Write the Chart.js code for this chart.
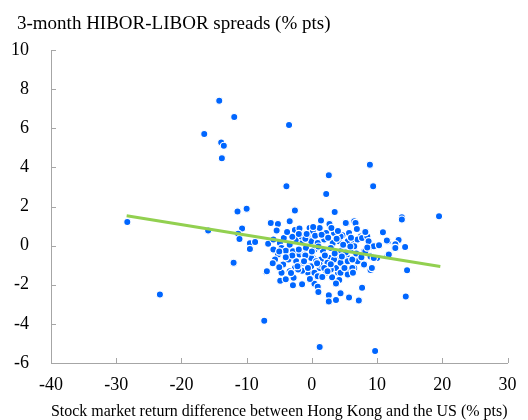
<!DOCTYPE html>
<html>
<head>
<meta charset="utf-8">
<script src="https://cdn.jsdelivr.net/npm/chart.js"></script>
<style>
  html, body { margin: 0; padding: 0; background: #fff; }
</style>
</head>
<body>
<canvas id="hibor-libor" width="528" height="420"></canvas>
<script>
// stock market return difference HK - US (% pts)
const stockDiff = [
  // outliers
  -28.3, -23.3, -14.2, -16.5, -11.9, -13.9, -13.5, -13.8, -3.5, -3.9, -11.4, -10.0, -2.6, 2.6, 2.2, 8.9, 9.4, 3.5,
  13.8, 13.8, 19.5, 14.4, 14.6, -7.3, 1.2, 9.7, -15.9, -12.0,
  // left of cluster
  -10.7, -11.3, -11.1, -9.5, -8.7, -9.5, -7.0, -4.85, -4.0, -2.8, -2.9, -1.5,
  // lower cluster
  0.4, 0.9, 1.0, 2.6, 2.6, 3.7, 4.4, 5.7, 7.2, 7.7, 3.1, 4.2, 3.7, 4.0, 5.6, 6.2, 8.0, 9.0, 9.6, 11.6, -1.5, -0.6, 2.5, 5.2,
  // right side
  10.9, 13.3, 14.3, 12.8, 11.7, 10.3, 9.4, 11.8, 12.7, 7.5, 6.8, 5.3, 1.4, 2.7, 11.5,
  // cluster, left part
  -6.3, -5.2, -3.4, -5.4, -2.6, -1.9, -0.35, -6.7, -5.9, -4.9, -4.3, -4.65, -5.2, -4.0, -3.4, -2.4, -1.4, -0.9,
  -0.6, -1.6, -2.9, -1.9, -3.6, -2.4, -4.65, -1.4, -2.6, -1.5, -0.35, -0.35, -6.9, -3.4, -4.4, -5.65, -5.9, -0.35,
  // cluster, middle
  1.4, 2.7, 5.2, 6.5, 1.2, 0.15, 2.2, 3.4, 4.7, 5.7, -0.1, 0.9, 1.9, 3.2, 4.2, 5.5, 6.5, 0.4, 1.7, 2.9, 4.4, 6.0,
  0.15, 1.4, 2.7, 3.9, 5.5, -0.1, 1.2, 2.4, 3.7, 5.0, 6.5, 0.4, 2.2, 4.4,
  // cluster, right part
  6.7, 7.0, 7.7, 8.5, 8.7, 9.5, 10.3, 12.8, 6.5, 8.0, 7.2, 9.0, 10.0, 8.0, 9.2, 6.2, 7.0, 4.4, 8.2,
  // cluster, bottom edge
  -1.1, -0.1, 0.65, 2.4, 3.4, 4.4, 5.5, 6.2, 8.2, 9.5, -2.1, -1.4, -0.6, 1.2, 1.9, 2.9, 5.0, 5.5, 6.3, 0.9, 2.4,
  // cluster, filled in
  -3.0, -2.0, -1.0, 0.5, 1.5, 2.5, 3.8, 4.8, 6.0, 6.8, 5.2, 3.5, 2.0, 1.0, 0.0, -1.0, -2.0, -3.0, -4.0, -5.0,
  -3.8, -1.2, 0.8, 2.9, 4.6, 7.6, 8.5, 0.2, -0.8, 3.0, 4.0, -2.2, 1.6, -0.3, 6.9, 5.9, -6.0, -5.0, -3.2, 8.2
];

// 3-month HIBOR-LIBOR spread (% pts)
const hiborSpread = [
  1.21, -2.5, 7.41, 5.7, 6.57, 5.27, 5.1, 4.47, 6.17, 3.03, 1.75, 1.89, 1.8, 3.6, 2.64, 4.14, 3.03, 1.72,
  1.45, 1.33, 1.5, -2.6, -1.26, -3.84, -5.18, -5.39, 0.77, -0.87,
  0.87, 0.61, 0.34, 0.12, 0.19, -0.17, -1.35, -1.8, -1.72, -1.64, -2.03, -1.98,
  -1.95, -2.1, -2.37, -2.54, -2.85, -2.78, -2.44, -2.65, -2.8, -2.15, -1.62, -1.76, -1.93, -1.38, -1.37, -1.37, -0.97, -1.25, -0.65, -0.53, -1.25, -1.37, -1.33, -0.9,
  0.68, 0.29, -0.07, 0.07, 0.22, -0.02, -0.07, -0.46, -0.12, 0.47, 1.12, 1.12, 1.31, 1.1, 0.26,
  1.16, 1.1, 1.24, 0.77, 0.8, 0.87, 0.9, 0.09, 0.31, 0.14, 0.39, -0.12, -0.46, -0.26, 0.05, 0.31, 0.22, -0.12,
  0.56, 0.47, -0.29, -0.46, -0.71, -0.8, -1.39, -0.97, -1.14, -1.28, -1.06, -0.63, -1.31, -1.31, -0.97, -0.71, -0.2, 0.31,
  1.28, 1.1, 1.16, 1.24, 0.9, 0.73, 0.65, 0.65, 0.53, 0.65, 0.22, 0.14, 0.31, 0.14, 0.22, 0.22, 0.14, -0.2, -0.26, -0.12, -0.29, -0.2,
  -0.63, -0.71, -0.63, -0.71, -0.63, -1.06, -1.14, -0.97, -1.14, -1.06, -1.14, -1.39, -1.39, -1.39,
  1.16, 0.31, 0.39, 0.47, 0.22, -0.03, 0.02, -0.12, -0.03, -0.29, -0.55, -0.55, -0.63, -0.97, -1.14, -1.14, -0.8, 0.47, 0.7,
  -0.46, -0.63, -0.8, -0.88, -0.71, -0.88, -0.8, -0.71, -0.29, -0.63, -1.22, -0.88, -1.14, -0.97, -1.14, -1.22, -1.14, -1.48, -1.39, -1.56, -1.31,
  0.45, 0.6, 0.35, 0.5, 0.55, 0.4, 0.35, 0.05, 0.4, -0.4, -0.35, -0.4, -0.5, -0.05, -0.3, -0.5, -0.2, -0.5, -0.6, -0.3,
  0.7, -0.8, -0.9, -0.95, -0.55, -0.6, -0.1, 0.95, 0.6, 0.9, 0.75, -1.05, -1.6, -1.7, 0.85, -0.05, -0.9, -1.1, -1.4, 0.7
];

// fitted trend line end points
const trendX = [-28.4, 19.7];
const trendY = [1.53, -1.07];

const xTicks = [-40, -30, -20, -10, 0, 10, 20, 30];
const yTicks = [-6, -4, -2, 0, 2, 4, 6, 8, 10];

const axisGrey = '#a6a6a6';
const serif = 'Liberation Serif';

// short tick marks pointing into the plot area
const innerTicks = {
  id: 'innerTicks',
  afterLayout(chart) {
    // y labels stick out left of the title indent, don't clip them
    chart.scales.y.left = 0;
  },
  afterDraw(chart) {
    const ctx = chart.ctx;
    const xs = chart.scales.x, ys = chart.scales.y;
    const area = chart.chartArea;
    ctx.save();
    ctx.strokeStyle = axisGrey;
    ctx.lineWidth = 1;
    ctx.beginPath();
    xTicks.forEach(v => {
      const px = Math.round(xs.getPixelForValue(v)) + 0.5;
      ctx.moveTo(px, area.bottom);
      ctx.lineTo(px, area.bottom - 5);
    });
    yTicks.forEach(v => {
      const py = Math.round(ys.getPixelForValue(v)) + 0.5;
      ctx.moveTo(area.left, py);
      ctx.lineTo(area.left + 5, py);
    });
    ctx.stroke();
    ctx.restore();
  }
};

new Chart('hibor-libor', {
  type: 'scatter',
  data: {
    datasets: [
      {
        type: 'line',
        data: trendX.map((x, i) => ({x: x, y: trendY[i]})),
        borderColor: '#92D050',
        borderWidth: 3,
        pointRadius: 0,
        fill: false,
        order: 0
      },
      {
        data: stockDiff.map((x, i) => ({x: x, y: hiborSpread[i]})),
        backgroundColor: '#0066ff',
        borderColor: '#ffffff',
        borderWidth: 1.2,
        pointRadius: 3.6,
        order: 1
      }
    ]
  },
  options: {
    responsive: false,
    animation: false,
    layout: { padding: { left: 17, right: 16, top: 0, bottom: 0 } },
    plugins: {
      legend: { display: false },
      tooltip: { enabled: false },
      title: {
        display: true,
        text: '3-month HIBOR-LIBOR spreads (% pts)',
        align: 'start',
        color: '#000',
        font: { family: serif, size: 19, weight: 'normal', lineHeight: 1.2 },
        padding: { top: 12.4, bottom: 14.8 }
      }
    },
    scales: {
      x: {
        type: 'linear',
        min: -40,
        max: 30,
        afterBuildTicks: s => { s.ticks = xTicks.map(v => ({value: v})); },
        afterFit: s => { s.height = 57; },
        grid: { display: false, drawTicks: false },
        border: { display: true, color: axisGrey, width: 1 },
        ticks: { color: '#000', padding: 11.5, maxRotation: 0, font: { family: serif, size: 18 } },
        title: {
          display: true,
          text: 'Stock market return difference between Hong Kong and the US (% pts)',
          color: '#000',
          font: { family: serif, size: 17, lineHeight: 1 },
          padding: 0
        }
      },
      y: {
        type: 'linear',
        min: -6,
        max: 10,
        afterBuildTicks: s => { s.ticks = yTicks.map(v => ({value: v})); },
        afterFit: s => { s.width = 34; },
        grid: { display: false, drawTicks: false },
        border: { display: true, color: axisGrey, width: 1 },
        ticks: { color: '#000', padding: 22, font: { family: serif, size: 18 } }
      }
    }
  },
  plugins: [innerTicks]
});
</script>
</body>
</html>
